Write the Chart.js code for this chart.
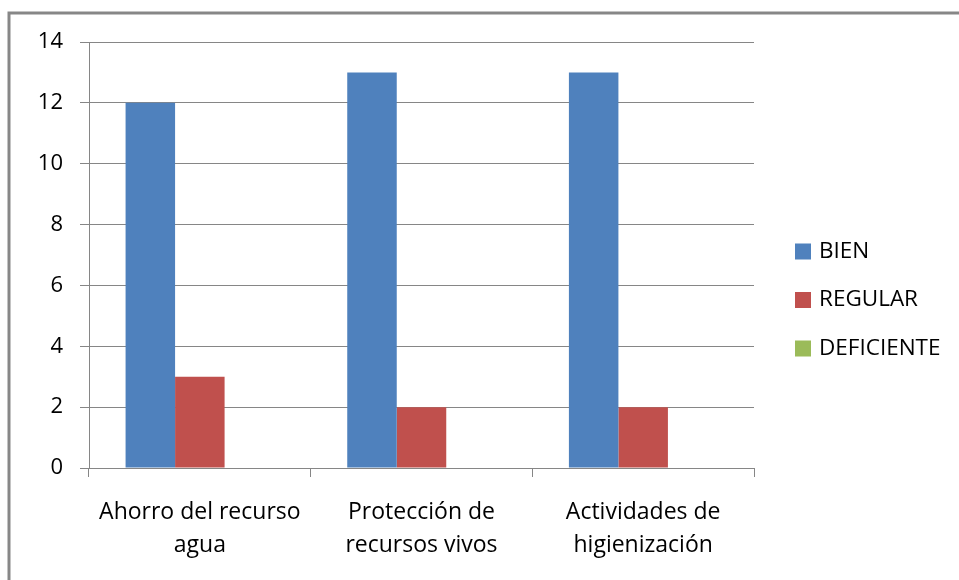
<!DOCTYPE html>
<html>
<head>
<meta charset="utf-8">
<script src="https://cdn.jsdelivr.net/npm/chart.js@4/dist/chart.umd.min.js"></script>
<style>
  html, body { margin: 0; padding: 0; background: #ffffff; }
  #wrap { width: 959px; height: 580px; }
</style>
</head>
<body>
<div id="wrap"><canvas id="c" width="959" height="580"></canvas></div>
<script>
// Categories (two-line labels) and values for each rating
const categories = [
  ['Ahorro del recurso', 'agua'],
  ['Protección de', 'recursos vivos'],
  ['Actividades de', 'higienización']
];
const seriesNames = ['BIEN', 'REGULAR', 'DEFICIENTE'];
const bien = [12, 13, 13];
const regular = [3, 2, 2];
const deficiente = [0, 0, 0];
const yTicks = [0, 2, 4, 6, 8, 10, 12, 14];

const colors = ['#4F81BD', '#C0504D', '#9BBB59'];
const gridColor = '#868686';
const fontFamily = "'Open Sans', 'Liberation Sans', sans-serif";

// Frame line along the top and left edge of the drawing
const framePlugin = {
  id: 'frame',
  beforeDraw(chart) {
    const ctx = chart.ctx;
    ctx.save();
    ctx.fillStyle = '#ffffff';
    ctx.fillRect(0, 0, chart.width, chart.height);
    ctx.strokeStyle = '#878787';
    ctx.lineWidth = 3;
    ctx.beginPath();
    ctx.moveTo(9, chart.height);
    ctx.lineTo(9, 13);
    ctx.lineTo(chart.width, 13);
    ctx.stroke();
    ctx.restore();
  }
};

// Legend drawn as a column on the right, from the dataset labels and colours
const sideLegend = {
  id: 'sideLegend',
  afterDraw(chart, args, opts) {
    const ctx = chart.ctx;
    const x0 = chart.chartArea.right + opts.offsetX;
    ctx.save();
    ctx.font = opts.fontSize + 'px ' + fontFamily;
    ctx.textBaseline = 'middle';
    ctx.textAlign = 'left';
    chart.data.datasets.forEach((ds, i) => {
      const cy = opts.firstY + i * opts.spacing;
      ctx.fillStyle = ds.backgroundColor;
      ctx.fillRect(x0, cy - opts.box / 2, opts.box, opts.box);
      ctx.fillStyle = '#000000';
      ctx.fillText(ds.label, x0 + opts.box + 8, cy);
    });
    ctx.restore();
  }
};

new Chart(document.getElementById('c'), {
  type: 'bar',
  data: {
    labels: categories,
    datasets: [
      { label: seriesNames[0], data: bien, backgroundColor: colors[0] },
      { label: seriesNames[1], data: regular, backgroundColor: colors[1] },
      { label: seriesNames[2], data: deficiente, backgroundColor: colors[2] }
    ]
  },
  plugins: [framePlugin, sideLegend],
  options: {
    responsive: false,
    animation: false,
    devicePixelRatio: 1,
    layout: { padding: { top: 42, right: 205, left: 0, bottom: 0 } },
    datasets: {
      bar: { categoryPercentage: 0.67, barPercentage: 1.0, borderWidth: 0 }
    },
    plugins: {
      legend: { display: false },
      tooltip: { enabled: false },
      sideLegend: { offsetX: 41, firstY: 251.5, spacing: 48.5, box: 16, fontSize: 22.5 }
    },
    scales: {
      x: {
        offset: true,
        grid: {
          offset: true,
          drawOnChartArea: false,
          drawTicks: true,
          tickLength: 9,
          color: gridColor,
          lineWidth: 1
        },
        border: { display: true, color: gridColor, width: 1 },
        ticks: {
          color: '#000000',
          padding: 19,
          maxRotation: 0,
          autoSkip: false,
          font: { family: fontFamily, size: 23, lineHeight: 1.435 }
        },
        afterFit(scale) { scale.height = 112; }
      },
      y: {
        min: 0,
        max: 14,
        afterBuildTicks(scale) { scale.ticks = yTicks.map(v => ({ value: v })); },
        grid: {
          drawTicks: true,
          tickLength: 9,
          color: gridColor,
          lineWidth: 1
        },
        border: { display: true, color: gridColor, width: 1 },
        ticks: {
          color: '#000000',
          padding: 17,
          font: { family: fontFamily, size: 22 }
        },
        afterFit(scale) { scale.width = 89; }
      }
    }
  }
});
</script>
</body>
</html>
